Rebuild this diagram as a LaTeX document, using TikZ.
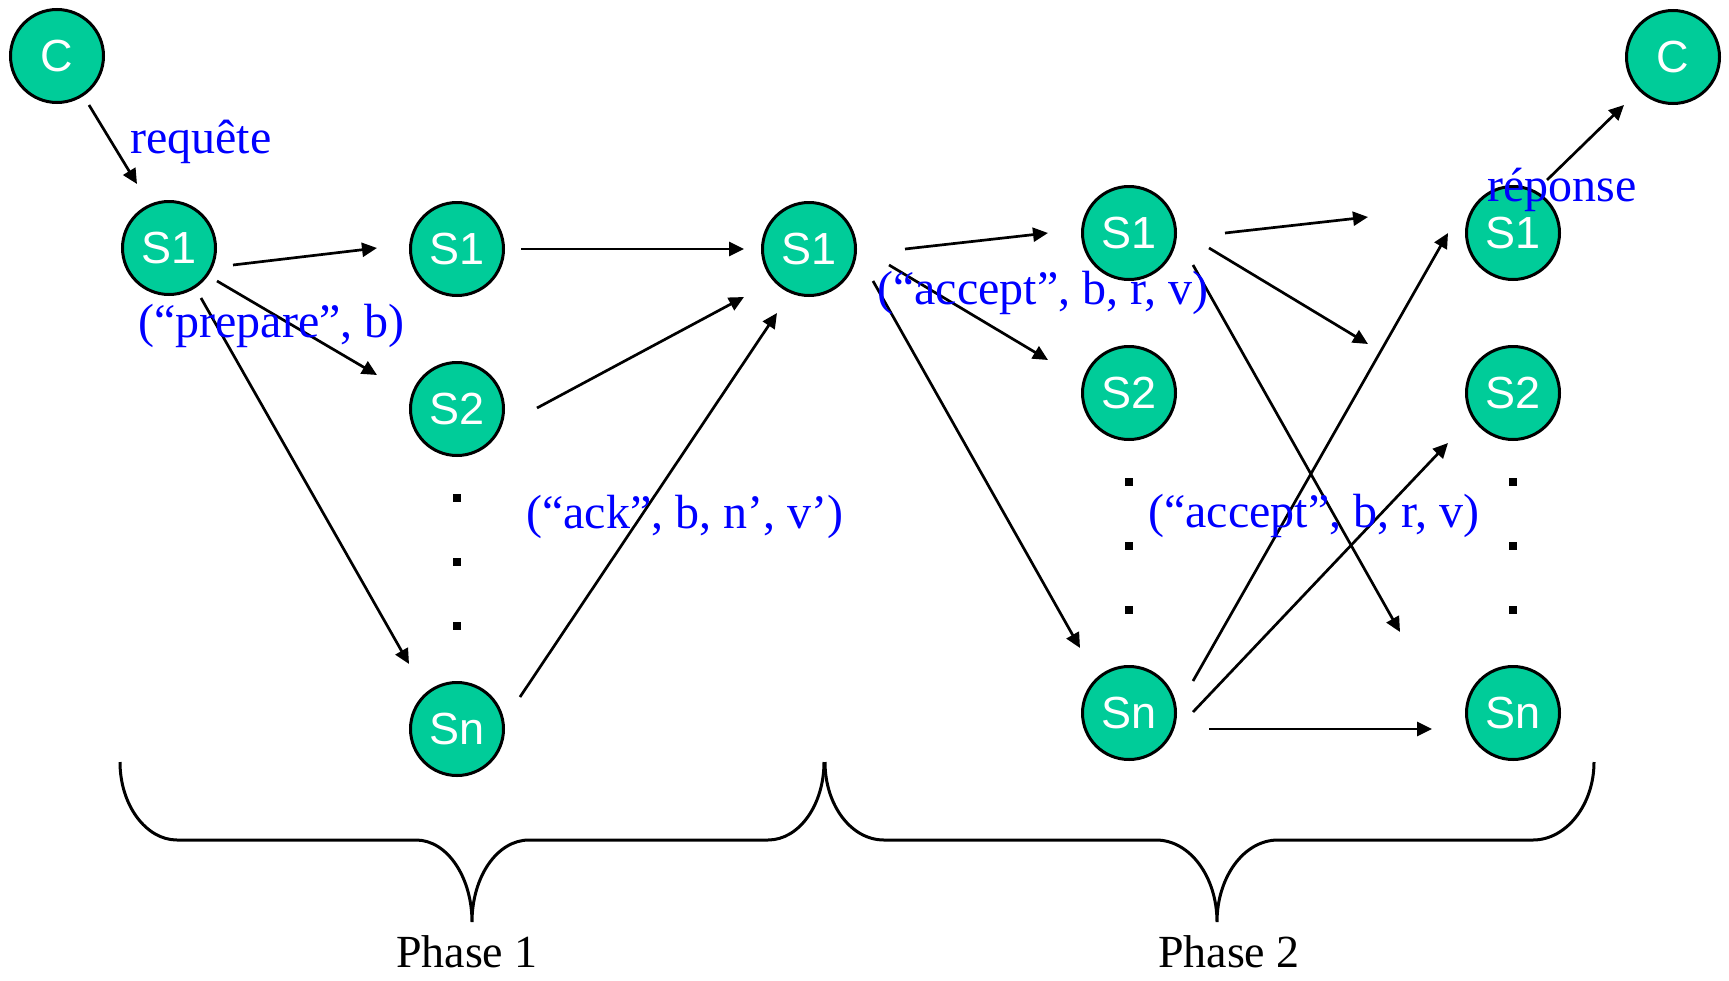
\documentclass[tikz,border=0pt]{standalone}
\usepackage{fontspec}
\setmainfont{Liberation Serif}
\newfontfamily\arialf{Liberation Sans}
\usetikzlibrary{arrows.meta}
\definecolor{srvgreen}{RGB}{0,204,153}
\definecolor{lblblue}{RGB}{0,0,255}
\begin{document}
\begin{tikzpicture}[x=1pt,y=-1pt,
  srv/.style={circle,draw=black,line width=3pt,fill=srvgreen,minimum size=93pt,inner sep=0pt,text=white,font=\arialf\fontsize{45}{45}\selectfont},
  arr/.style={-{Triangle[length=15pt,width=14pt]},line width=2.7pt},
  lbl/.style={anchor=base west,inner sep=0pt,text=lblblue,font=\fontsize{48}{48}\selectfont},
  phase/.style={anchor=base,inner sep=0pt,text=black,font=\fontsize{46}{46}\selectfont},
  sqdot/.style={fill=black,minimum size=8pt,inner sep=0pt,rectangle},
  brace/.style={line width=3pt}]
\useasboundingbox (0,0) rectangle (1729,980);

% nodes
\node[srv] (cL) at (57,56) {C};
\node[srv] (a1) at (169,248) {S1};
\node[srv] (b1) at (457,249) {S1};
\node[srv] (b2) at (457,409) {S2};
\node[srv] (bn) at (457,729) {Sn};
\node[srv] (c1) at (809,249) {S1};
\node[srv] (d1) at (1129,233) {S1};
\node[srv] (d2) at (1129,393) {S2};
\node[srv] (dn) at (1129,713) {Sn};
\node[srv] (e1) at (1513,233) {S1};
\node[srv] (e2) at (1513,393) {S2};
\node[srv] (en) at (1513,713) {Sn};
\node[srv] (cR) at (1673,57) {C};

% dots
\node[sqdot] (bd1) at (457,498) {};
\node[sqdot] (bd2) at (457,562) {};
\node[sqdot] (bd3) at (457,626) {};
\node[sqdot] (dd1) at (1129,482) {};
\node[sqdot] (dd2) at (1129,546) {};
\node[sqdot] (dd3) at (1129,610) {};
\node[sqdot] (ed1) at (1513,482) {};
\node[sqdot] (ed2) at (1513,546) {};
\node[sqdot] (ed3) at (1513,610) {};

% arrows
\draw[arr] ([shift={(32,49)}]cL.center) -- ([shift={(-32,-64)}]a1.center);
\draw[arr] ([shift={(64,17)}]a1.center) -- ([shift={(-80,-1)}]b1.center);
\draw[arr] ([shift={(48,33)}]a1.center) -- ([shift={(-80,-34)}]b2.center);
\draw[arr] ([shift={(32,50)}]a1.center) -- ([shift={(-48,-65)}]bn.center);
\draw[arr] ([shift={(64,0)}]b1.center) -- ([shift={(-65,0)}]c1.center);
\draw[arr] ([shift={(80,-1)}]b2.center) -- ([shift={(-65,48)}]c1.center);
\draw[arr] ([shift={(63,-32)}]bn.center) -- ([shift={(-32,64)}]c1.center);
\draw[arr] ([shift={(96,0)}]c1.center) -- ([shift={(-81,0)}]d1.center);
\draw[arr] ([shift={(80,16)}]c1.center) -- ([shift={(-81,-33)}]d2.center);
\draw[arr] ([shift={(64,32)}]c1.center) -- ([shift={(-49,-65)}]dn.center);
\draw[arr] ([shift={(96,0)}]d1.center) -- ([shift={(-145,-16)}]e1.center);
\draw[arr] ([shift={(80,15)}]d1.center) -- ([shift={(-145,-49)}]e2.center);
\draw[arr] ([shift={(64,32)}]d1.center) -- ([shift={(-113,-81)}]en.center);
\draw[arr] ([shift={(64,-32)}]dn.center) -- ([shift={(-65,0)}]e1.center);
\draw[arr] ([shift={(64,-1)}]dn.center) -- ([shift={(-65,50)}]e2.center);
\draw[arr] ([shift={(80,16)}]dn.center) -- ([shift={(-81,16)}]en.center);
\draw[arr] ([shift={(34,-53)}]e1.center) -- ([shift={(-49,48)}]cR.center);

% labels
\node[lbl] (lreq) at (130,153) {requête};
\node[lbl] (lprep) at (138,337) {(“prepare”, b)};
\node[lbl] (lack) at (526,528) {(“ack”, b, n’, v’)};
\node[lbl] (lacc1) at (877,304) {(“accept”, b, r, v)};
\node[lbl] (lacc2) at (1148,527) {(“accept”, b, r, v)};
\node[lbl] (lrep) at (1487,201) {réponse};

% braces
\draw[brace] (120,762) .. controls (120,805) and (146,840) .. (177,840) -- (416,840)
  .. controls (447,840) and (472,877) .. (472,922)
  .. controls (472,877) and (497,840) .. (529,840) -- (768,840)
  .. controls (799,840) and (824,805) .. (824,762);
\draw[brace] (825,762) .. controls (825,805) and (851,840) .. (884,840) -- (1156,840)
  .. controls (1190,840) and (1217,877) .. (1217,922)
  .. controls (1217,877) and (1244,840) .. (1278,840) -- (1533,840)
  .. controls (1566,840) and (1594,805) .. (1594,762);
\node[phase] (ph1) at (467,967) {Phase 1};
\node[phase] (ph2) at (1229,967) {Phase 2};
\end{tikzpicture}
\end{document}
